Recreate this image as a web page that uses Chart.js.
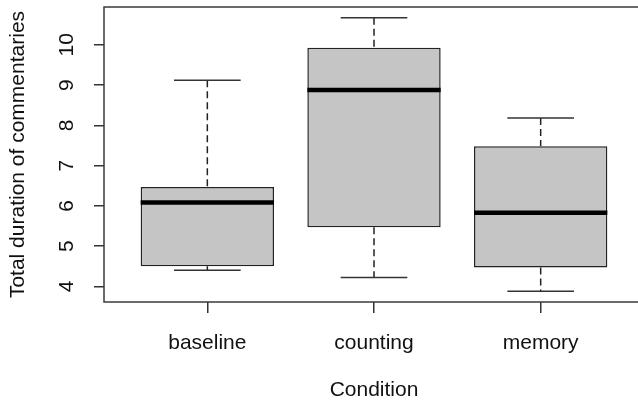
<!DOCTYPE html>
<html>
<head>
<meta charset="utf-8">
<script src="https://cdn.jsdelivr.net/npm/chart.js@4.4.1/dist/chart.umd.min.js"></script>
<style>
  html, body { margin: 0; padding: 0; background: #fff; overflow: hidden; }
  .chart-container { position: relative; width: 646px; height: 408px; }
</style>
</head>
<body>
<div class="chart-container"><canvas id="myChart"></canvas></div>
<script>
const categories = ['baseline', 'counting', 'memory'];
const lowerWhisker = [4.40, 4.22, 3.88];
const lowerQuartile = [4.50, 5.47, 4.47];
const medians = [6.08, 8.88, 5.83];
const upperQuartile = [6.47, 9.93, 7.48];
const upperWhisker = [9.12, 10.67, 8.18];
const yTicks = [4, 5, 6, 7, 8, 9, 10];

const boxWidth = 0.8; // like R's boxwex
const fontFamily = '"Liberation Sans", Arial, sans-serif';
const ink = '#222';

// whiskers, caps, medians and the plot frame
const boxExtras = {
  id: 'boxExtras',
  afterDatasetsDraw(chart) {
    const { ctx, chartArea, scales: { x, y } } = chart;
    ctx.save();
    categories.forEach((c, i) => {
      const cx = x.getPixelForValue(i + 1);
      const capL = x.getPixelForValue(i + 1 - boxWidth / 4);
      const capR = x.getPixelForValue(i + 1 + boxWidth / 4);
      const boxL = x.getPixelForValue(i + 1 - boxWidth / 2);
      const boxR = x.getPixelForValue(i + 1 + boxWidth / 2);

      ctx.strokeStyle = ink;
      ctx.lineWidth = 1.5;
      ctx.setLineDash([7, 4]);
      ctx.beginPath();
      ctx.moveTo(cx, y.getPixelForValue(upperWhisker[i]));
      ctx.lineTo(cx, y.getPixelForValue(upperQuartile[i]));
      ctx.moveTo(cx, y.getPixelForValue(lowerQuartile[i]));
      ctx.lineTo(cx, y.getPixelForValue(lowerWhisker[i]));
      ctx.stroke();

      ctx.setLineDash([]);
      ctx.strokeStyle = '#333';
      ctx.beginPath();
      ctx.moveTo(capL, y.getPixelForValue(upperWhisker[i]));
      ctx.lineTo(capR, y.getPixelForValue(upperWhisker[i]));
      ctx.moveTo(capL, y.getPixelForValue(lowerWhisker[i]));
      ctx.lineTo(capR, y.getPixelForValue(lowerWhisker[i]));
      ctx.stroke();

      ctx.strokeStyle = '#000';
      ctx.lineWidth = 4.5;
      ctx.beginPath();
      ctx.moveTo(boxL, y.getPixelForValue(medians[i]));
      ctx.lineTo(boxR, y.getPixelForValue(medians[i]));
      ctx.stroke();
    });
    ctx.strokeStyle = '#3a3a3a';
    ctx.lineWidth = 1.5;
    ctx.strokeRect(chartArea.left, chartArea.top, chartArea.right - chartArea.left, chartArea.bottom - chartArea.top);
    ctx.restore();
  }
};

new Chart(document.getElementById('myChart'), {
  type: 'bar',
  data: {
    datasets: [{
      label: 'Total duration of commentaries',
      data: categories.map((c, i) => ({ x: i + 1, y: [lowerQuartile[i], upperQuartile[i]] })),
      backgroundColor: '#c5c5c5',
      borderColor: ink,
      borderWidth: 1.5,
      borderSkipped: false,
      barPercentage: boxWidth,
      categoryPercentage: 1
    }]
  },
  options: {
    responsive: true,
    maintainAspectRatio: false,
    animation: false,
    layout: { padding: { top: 7, right: 2, left: 0, bottom: 0 } },
    plugins: {
      legend: { display: false },
      tooltip: { enabled: false }
    },
    scales: {
      x: {
        type: 'linear',
        bounds: 'data',
        offset: false,
        min: 0.38,
        max: 3.62,
        afterBuildTicks: (scale) => { scale.ticks = categories.map((c, i) => ({ value: i + 1 })); },
        afterFit: (scale) => {
          scale.height = 106;
          scale.paddingLeft = 0;
          scale.paddingRight = 0;
        },
        border: { display: false },
        grid: { offset: false, drawOnChartArea: false, drawTicks: true, tickLength: 11, color: '#333', lineWidth: 1.5 },
        ticks: {
          autoSkip: false,
          maxRotation: 0,
          padding: 18,
          color: '#111',
          font: { family: fontFamily, size: 21 },
          callback: (v, i) => categories[i]
        },
        title: {
          display: true,
          text: 'Condition',
          color: '#111',
          font: { family: fontFamily, size: 21 },
          padding: { top: 0, bottom: 5 }
        }
      },
      y: {
        bounds: 'data',
        min: 3.61,
        max: 10.94,
        afterBuildTicks: (scale) => { scale.ticks = yTicks.map(v => ({ value: v })); },
        afterFit: (scale) => {
          scale.width = 104;
          scale.paddingTop = 0;
          scale.paddingBottom = 0;
        },
        border: { display: false },
        grid: { drawOnChartArea: false, drawTicks: true, tickLength: 10, color: '#333', lineWidth: 1.5 },
        ticks: {
          autoSkip: false,
          minRotation: 90,
          maxRotation: 90,
          crossAlign: 'center',
          padding: 15,
          color: '#111',
          font: { family: fontFamily, size: 21 }
        },
        title: {
          display: true,
          text: 'Total duration of commentaries',
          color: '#111',
          font: { family: fontFamily, size: 21 },
          padding: { top: 6, bottom: 0 }
        }
      }
    }
  },
  plugins: [boxExtras]
});
</script>
</body>
</html>
